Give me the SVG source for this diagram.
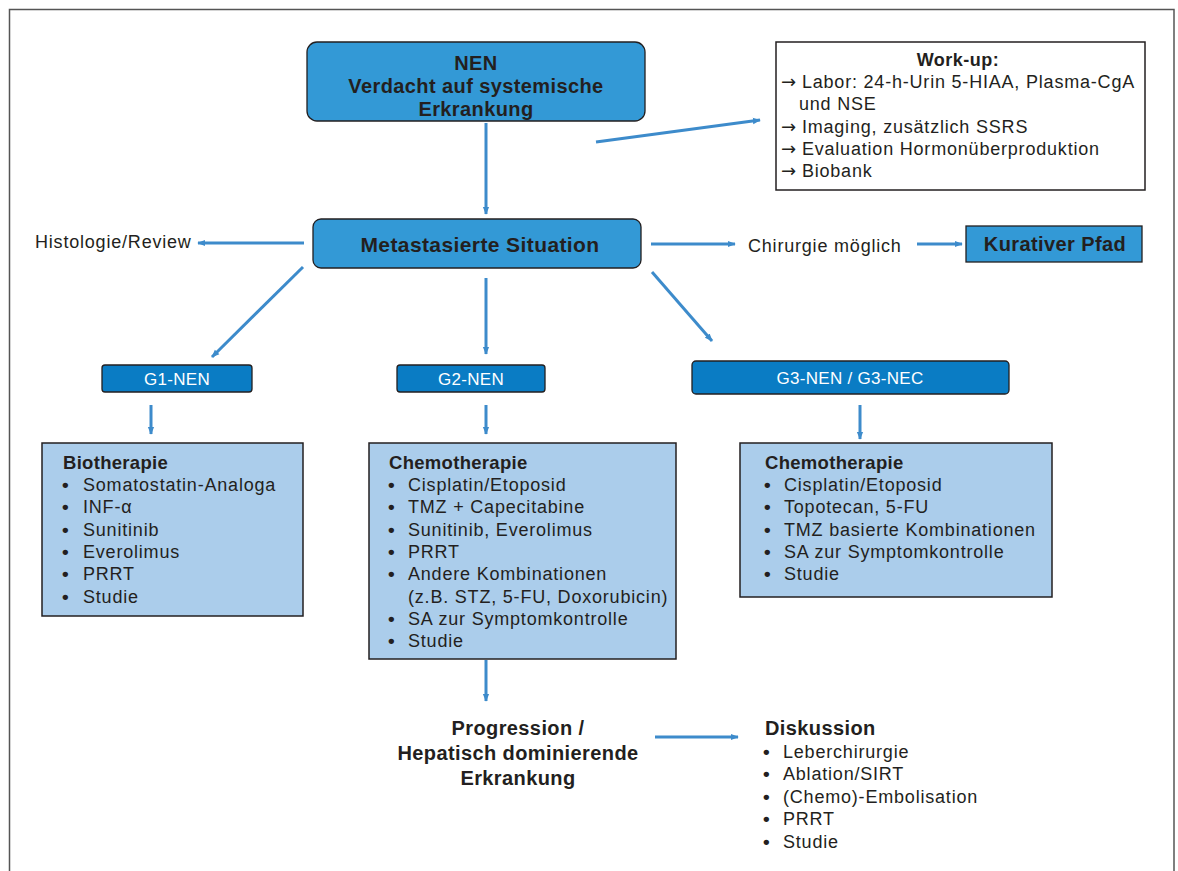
<svg xmlns="http://www.w3.org/2000/svg" width="1178" height="871" viewBox="0 0 1178 871">
<style>
.t{font-family:"Liberation Sans",Arial,sans-serif;fill:#231f20}
.b{font-weight:bold}
.n{font-size:18px;letter-spacing:0.8px}
.h{font-size:20px;letter-spacing:0.4px}
.sub{font-size:18.5px;letter-spacing:0.3px;font-weight:bold}
.w{fill:#ffffff;font-size:17px;letter-spacing:0.3px}
.ar{font-family:"DejaVu Sans",sans-serif;letter-spacing:0}
.bu{font-weight:bold;font-size:19px}
.mid{fill:#3399d6;stroke:#231f20;stroke-width:1.3}
.dark{fill:#0a7cc4;stroke:#231f20;stroke-width:1.3}
.light{fill:#abcdeb;stroke:#231f20;stroke-width:1.5}
.con line{stroke:#3d8bcb;stroke-width:3;marker-end:url(#ah)}
</style>
<defs>
<marker id="ah" viewBox="0 0 10 10" refX="9" refY="5" markerWidth="8" markerHeight="8" markerUnits="userSpaceOnUse" orient="auto">
<path d="M0,1 L10,5 L0,9 Z" fill="#3d8bcb"/>
</marker>
</defs>
<rect x="0" y="0" width="1178" height="871" fill="#ffffff"/>
<path d="M9.5,880 V9.5 H1174 V880" fill="none" stroke="#555" stroke-width="1.5"/>

<g id="nen">
<rect class="mid" x="307" y="42" width="338" height="79" rx="10"/>
<text class="t b h" x="476" y="70" text-anchor="middle">NEN</text>
<text class="t b h" x="476" y="93" text-anchor="middle">Verdacht auf systemische</text>
<text class="t b h" x="476" y="116" text-anchor="middle">Erkrankung</text>
</g>

<g id="workup">
<rect x="776" y="42" width="369" height="148" fill="#ffffff" stroke="#231f20" stroke-width="1.5"/>
<text class="t b" x="958" y="66" text-anchor="middle" font-size="18" letter-spacing="0.5">Work-up:</text>
<text class="t n" x="781" y="88"><tspan class="ar">→</tspan> Labor: 24-h-Urin 5-HIAA, Plasma-CgA</text>
<text class="t n" x="799" y="110">und NSE</text>
<text class="t n" x="781" y="133"><tspan class="ar">→</tspan> Imaging, zusätzlich SSRS</text>
<text class="t n" x="781" y="155"><tspan class="ar">→</tspan> Evaluation Hormonüberproduktion</text>
<text class="t n" x="781" y="177"><tspan class="ar">→</tspan> Biobank</text>
</g>

<g id="meta">
<rect class="mid" x="313" y="219" width="328" height="49" rx="8"/>
<text class="t b" x="480" y="252" text-anchor="middle" font-size="21" letter-spacing="0.4">Metastasierte Situation</text>
</g>

<g id="histo">
<text class="t n" x="35" y="248">Histologie/Review</text>
</g>

<g id="chir">
<text class="t n" x="748" y="252">Chirurgie möglich</text>
</g>

<g id="kurativ">
<rect class="mid" x="966" y="226" width="176" height="36"/>
<text class="t b h" x="1055" y="251" text-anchor="middle">Kurativer Pfad</text>
</g>

<g id="g1">
<rect class="dark" x="102" y="365" width="150" height="27" rx="3"/>
<text class="t w" x="177" y="385" text-anchor="middle">G1-NEN</text>
</g>
<g id="g2">
<rect class="dark" x="397" y="365" width="148" height="27" rx="3"/>
<text class="t w" x="471" y="385" text-anchor="middle">G2-NEN</text>
</g>
<g id="g3">
<rect class="dark" x="692" y="361" width="317" height="33" rx="4"/>
<text class="t w" x="850" y="384" text-anchor="middle">G3-NEN / G3-NEC</text>
</g>

<g id="bio">
<rect class="light" x="42" y="443" width="261" height="173"/>
<text class="t sub" x="63" y="469">Biotherapie</text>
<g class="t n">
<text class="bu" x="62" y="491">•</text><text x="83" y="491">Somatostatin-Analoga</text>
<text class="bu" x="62" y="513">•</text><text x="83" y="513">INF-α</text>
<text class="bu" x="62" y="536">•</text><text x="83" y="536">Sunitinib</text>
<text class="bu" x="62" y="558">•</text><text x="83" y="558">Everolimus</text>
<text class="bu" x="62" y="580">•</text><text x="83" y="580">PRRT</text>
<text class="bu" x="62" y="603">•</text><text x="83" y="603">Studie</text>
</g>
</g>

<g id="chemo2">
<rect class="light" x="369" y="443" width="307" height="216"/>
<text class="t sub" x="389" y="469">Chemotherapie</text>
<g class="t n">
<text class="bu" x="388" y="491">•</text><text x="408" y="491">Cisplatin/Etoposid</text>
<text class="bu" x="388" y="513">•</text><text x="408" y="513">TMZ + Capecitabine</text>
<text class="bu" x="388" y="536">•</text><text x="408" y="536">Sunitinib, Everolimus</text>
<text class="bu" x="388" y="558">•</text><text x="408" y="558">PRRT</text>
<text class="bu" x="388" y="580">•</text><text x="408" y="580">Andere Kombinationen</text>
<text x="408" y="603">(z.B. STZ, 5-FU, Doxorubicin)</text>
<text class="bu" x="388" y="625">•</text><text x="408" y="625">SA zur Symptomkontrolle</text>
<text class="bu" x="388" y="647">•</text><text x="408" y="647">Studie</text>
</g>
</g>

<g id="chemo3">
<rect class="light" x="740" y="443" width="312" height="154"/>
<text class="t sub" x="765" y="469">Chemotherapie</text>
<g class="t n">
<text class="bu" x="764" y="491">•</text><text x="784" y="491">Cisplatin/Etoposid</text>
<text class="bu" x="764" y="513">•</text><text x="784" y="513">Topotecan, 5-FU</text>
<text class="bu" x="764" y="536">•</text><text x="784" y="536">TMZ basierte Kombinationen</text>
<text class="bu" x="764" y="558">•</text><text x="784" y="558">SA zur Symptomkontrolle</text>
<text class="bu" x="764" y="580">•</text><text x="784" y="580">Studie</text>
</g>
</g>

<g id="progression">
<text class="t b h" x="518" y="735" text-anchor="middle">Progression /</text>
<text class="t b h" x="518" y="760" text-anchor="middle">Hepatisch dominierende</text>
<text class="t b h" x="518" y="785" text-anchor="middle">Erkrankung</text>
</g>

<g id="diskussion">
<text class="t b h" x="765" y="735">Diskussion</text>
<g class="t n">
<text class="bu" x="763" y="758">•</text><text x="783" y="758">Leberchirurgie</text>
<text class="bu" x="763" y="780">•</text><text x="783" y="780">Ablation/SIRT</text>
<text class="bu" x="763" y="803">•</text><text x="783" y="803">(Chemo)-Embolisation</text>
<text class="bu" x="763" y="825">•</text><text x="783" y="825">PRRT</text>
<text class="bu" x="763" y="848">•</text><text x="783" y="848">Studie</text>
</g>
</g>

<g id="connectors" class="con">
<line x1="596" y1="142" x2="760" y2="120"/>
<line x1="486" y1="123" x2="486" y2="214"/>
<line x1="304" y1="243" x2="198" y2="243"/>
<line x1="651" y1="244" x2="735" y2="244"/>
<line x1="917" y1="244" x2="962" y2="244"/>
<line x1="303" y1="267" x2="212" y2="357"/>
<line x1="486" y1="278" x2="486" y2="354"/>
<line x1="652" y1="272" x2="712" y2="341"/>
<line x1="151" y1="405" x2="151" y2="434"/>
<line x1="486" y1="405" x2="486" y2="434"/>
<line x1="860" y1="405" x2="860" y2="439"/>
<line x1="486" y1="660" x2="486" y2="701"/>
<line x1="655" y1="737" x2="738" y2="737"/>
</g>
</svg>
